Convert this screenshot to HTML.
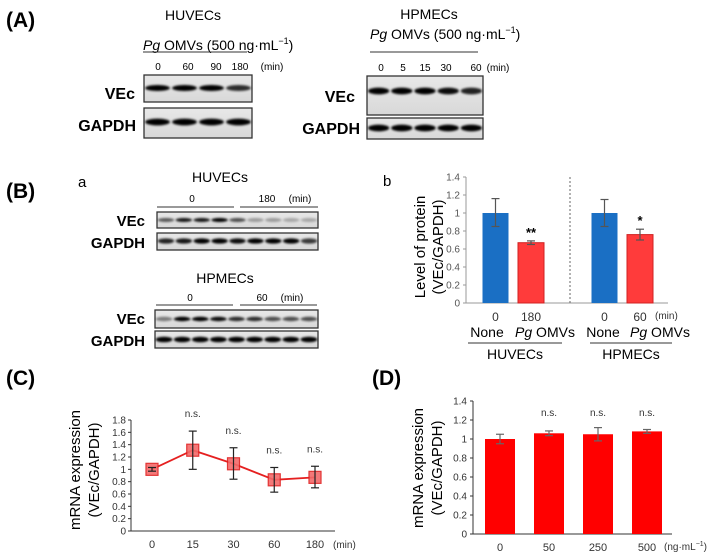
<!DOCTYPE html>
<html><head><meta charset="utf-8"><style>
html,body{margin:0;padding:0;background:#fff;}
svg{display:block;font-family:"Liberation Sans",Arial,sans-serif;}
</style></head><body>
<svg id="fig" width="709" height="560" viewBox="0 0 709 560">
<defs>
<filter id="bl" x="-20%" y="-80%" width="140%" height="260%"><feGaussianBlur stdDeviation="1.1"/></filter>
<linearGradient id="blotbg" x1="0" y1="0" x2="0" y2="1"><stop offset="0" stop-color="#e8e8e8"/><stop offset="1" stop-color="#d8d8d8"/></linearGradient>
</defs>
<text x="6" y="27" font-size="21" font-weight="bold">(A)</text>
<text x="6" y="198" font-size="21" font-weight="bold">(B)</text>
<text x="6" y="385" font-size="21" font-weight="bold">(C)</text>
<text x="372" y="385" font-size="21" font-weight="bold">(D)</text>

<text x="193" y="20" font-size="14" text-anchor="middle">HUVECs</text>
<text x="143" y="50" font-size="14"><tspan font-style="italic">Pg</tspan> OMVs (500 ng·mL<tspan font-size="9" dy="-6">−1</tspan><tspan dy="6">)</tspan></text>
<line x1="143" y1="52" x2="247" y2="52" stroke="#333"/>
<g font-size="10" text-anchor="middle">
<text x="158" y="70">0</text><text x="188" y="70">60</text><text x="216" y="70">90</text><text x="240" y="70">180</text><text x="272" y="70">(min)</text></g>
<text x="135" y="99" font-size="16" font-weight="bold" text-anchor="end">VEc</text>
<text x="136" y="131" font-size="16" font-weight="bold" text-anchor="end">GAPDH</text>

<text x="429" y="19" font-size="14" text-anchor="middle">HPMECs</text>
<text x="370" y="39" font-size="14"><tspan font-style="italic">Pg</tspan> OMVs (500 ng·mL<tspan font-size="9" dy="-6">−1</tspan><tspan dy="6">)</tspan></text>
<line x1="370" y1="52" x2="478" y2="52" stroke="#333"/>
<g font-size="10" text-anchor="middle">
<text x="381" y="71">0</text><text x="403" y="71">5</text><text x="425" y="71">15</text><text x="446" y="71">30</text><text x="476" y="71">60</text><text x="498" y="71">(min)</text></g>
<text x="355" y="102" font-size="16" font-weight="bold" text-anchor="end">VEc</text>
<text x="360" y="134" font-size="16" font-weight="bold" text-anchor="end">GAPDH</text>

<text x="78" y="187" font-size="15">a</text>
<text x="220" y="182" font-size="14" text-anchor="middle">HUVECs</text>
<g font-size="10" text-anchor="middle"><text x="192" y="202">0</text><text x="267" y="202">180</text><text x="300" y="202">(min)</text></g>
<line x1="157" y1="207" x2="234" y2="207" stroke="#333"/><line x1="240" y1="207" x2="318" y2="207" stroke="#333"/>
<text x="145" y="226" font-size="15" font-weight="bold" text-anchor="end">VEc</text>
<text x="145" y="248" font-size="15" font-weight="bold" text-anchor="end">GAPDH</text>
<text x="225" y="283" font-size="14" text-anchor="middle">HPMECs</text>
<g font-size="10" text-anchor="middle"><text x="190" y="301">0</text><text x="262" y="301">60</text><text x="292" y="301">(min)</text></g>
<line x1="156" y1="305" x2="233" y2="305" stroke="#333"/><line x1="240" y1="305" x2="317" y2="305" stroke="#333"/>
<text x="145" y="324" font-size="15" font-weight="bold" text-anchor="end">VEc</text>
<text x="145" y="346" font-size="15" font-weight="bold" text-anchor="end">GAPDH</text>

<g id="blots"></g>
<g id="chartB"></g>
<g id="chartC"></g>
<g id="chartD"></g>
</svg>
<script>
// Panel B(b) data
const bCats = ["0","180","0","60"];
const bValues = [1.0, 0.67, 1.0, 0.76];
const bErrHi = [0.16, 0.02, 0.15, 0.06];
const bErrLo = [0.15, 0.02, 0.15, 0.06];
const bSig = ["", "**", "", "*"];
const bTicks = [0,0.2,0.4,0.6,0.8,1,1.2,1.4];
// Panel C data
const cCats = ["0","15","30","60","180"];
const cValues = [1.0, 1.31, 1.09, 0.83, 0.87];
const cErrHi = [0.03, 0.31, 0.26, 0.20, 0.18];
const cErrLo = [0.03, 0.31, 0.25, 0.20, 0.17];
const cSig = ["", "n.s.", "n.s.", "n.s.", "n.s."];
const cTicks = [0,0.2,0.4,0.6,0.8,1,1.2,1.4,1.6,1.8];
// Panel D data
const dCats = ["0","50","250","500"];
const dValues = [1.0, 1.06, 1.05, 1.08];
const dErr = [0.05, 0.025, 0.07, 0.02];
const dSig = ["", "n.s.", "n.s.", "n.s."];
const dTicks = [0,0.2,0.4,0.6,0.8,1,1.2,1.4];

const NS="http://www.w3.org/2000/svg";
function mk(p,tag,a,txt){const e=document.createElementNS(NS,tag);for(const k in a)e.setAttribute(k,a[k]);if(txt!==undefined)e.textContent=txt;p.appendChild(e);return e;}

const blotGroup=document.getElementById('blots');
function blot(x,y,w,h,ints,bandY,bh,name){
  const g=mk(blotGroup,'g',{});
  
  
  mk(g,'rect',{x:x,y:y,width:w,height:h,fill:'url(#blotbg)',stroke:'#333','stroke-width':1.3});
  const lw=w/ints.length;
  ints.forEach((v,i)=>{
    mk(g,'ellipse',{cx:x+lw*(i+0.5),cy:y+bandY,rx:lw*0.46,ry:bh,fill:'#000',opacity:v,filter:'url(#bl)'});
  });
}
blot(144,75,108,27,[1,1,1,0.8],13,3,'blot-huvecs-vec');
blot(144,108,108,30,[1,1,1,1],14,3.4,'blot-huvecs-gapdh');
blot(367,76,116,39,[1,1,1,0.95,0.85],15,3.4,'blot-hpmecs-vec');
blot(367,118,116,21,[1,1,1,1,1],10,3.4,'blot-hpmecs-gapdh');
blot(157,212,161,16,[0.6,0.9,0.9,1,0.65,0.3,0.3,0.25,0.25],8,2,'blot-b-huvecs-vec');
blot(157,233,161,17,[0.85,0.9,1,1,0.95,1,1,1,0.75],8,2.6,'blot-b-huvecs-gapdh');
blot(155,310,163,18,[0.45,1,1,0.95,0.8,0.8,0.65,0.65,0.65],9,2.2,'blot-b-hpmecs-vec');
blot(155,331,163,17,[1,1,1,1,1,1,1,1,1],8.5,2.8,'blot-b-hpmecs-gapdh');

// Chart B
(function(){
  const g=document.getElementById('chartB');
  const ax=466, y0=303, y1=177, max=1.4;
  const Y=v=>y0-(v/max)*(y0-y1);
  const centers=[495.5,531,604.5,640], bw=26, colors=['#1a6fc4','#ff3b3b','#1a6fc4','#ff3b3b'];
  mk(g,'text',{x:383,y:186,'font-size':15},'b');
  mk(g,'line',{x1:ax,y1:y1,x2:ax,y2:y0,stroke:'#999'});
  mk(g,'line',{x1:ax,y1:y0,x2:668,y2:y0,stroke:'#999'});
  bTicks.forEach(t=>{const yy=Y(t);
    mk(g,'line',{x1:ax-3,y1:yy,x2:ax,y2:yy,stroke:'#999'});
    const tl=mk(g,'text',{x:ax-6,y:yy+3.5,'font-size':10,'text-anchor':'end',fill:'#555'},String(t));
    
    });
  mk(g,'line',{x1:570,y1:177,x2:570,y2:305,stroke:'#666','stroke-dasharray':'2,2'});
  bValues.forEach((v,i)=>{
    const r=mk(g,'rect',{x:centers[i]-bw/2,y:Y(v),width:bw,height:y0-Y(v),fill:colors[i],stroke:i%2?'#d02020':'none'});
    
    
    const hi=Y(v+bErrHi[i]), lo=Y(v-bErrLo[i]);
    mk(g,'line',{x1:centers[i],y1:hi,x2:centers[i],y2:lo,stroke:'#555','stroke-width':1.2});
    mk(g,'line',{x1:centers[i]-4,y1:hi,x2:centers[i]+4,y2:hi,stroke:'#555','stroke-width':1.2});
    mk(g,'line',{x1:centers[i]-4,y1:lo,x2:centers[i]+4,y2:lo,stroke:'#555','stroke-width':1.2});
    if(bSig[i]) mk(g,'text',{x:centers[i],y:hi-4,'font-size':13,'font-weight':'bold','text-anchor':'middle'},bSig[i]);
    const cl=mk(g,'text',{x:centers[i],y:321,'font-size':12,'text-anchor':'middle',fill:'#333'},bCats[i]);
    
    
  });
  mk(g,'text',{x:655,y:319,'font-size':10,'fill':'#333'},'(min)');
  [[487,'None'],[603,'None']].forEach(a=>mk(g,'text',{x:a[0],y:337,'font-size':14,'text-anchor':'middle'},a[1]));
  [545,660].forEach(x=>{const t=mk(g,'text',{x:x,y:337,'font-size':14,'text-anchor':'middle'});
    mk(t,'tspan',{'font-style':'italic'},'Pg');mk(t,'tspan',{},' OMVs');});
  mk(g,'line',{x1:468,y1:343,x2:562,y2:343,stroke:'#333'});
  mk(g,'line',{x1:590,y1:343,x2:672,y2:343,stroke:'#333'});
  mk(g,'text',{x:515,y:359,'font-size':14,'text-anchor':'middle'},'HUVECs');
  mk(g,'text',{x:631,y:359,'font-size':14,'text-anchor':'middle'},'HPMECs');
  const yt=mk(g,'text',{transform:'translate(425,247) rotate(-90)','font-size':15,'text-anchor':'middle'});
  
  
  mk(yt,'tspan',{x:0,y:0},'Level of protein');mk(yt,'tspan',{x:0,y:18},'(VEc/GAPDH)');
})();

// Chart C
(function(){
  const g=document.getElementById('chartC');
  const ax=131, y0=531, y1=420, max=1.8;
  const Y=v=>y0-(v/max)*(y0-y1);
  const xs=cCats.map((c,i)=>152+i*40.75);
  mk(g,'line',{x1:ax,y1:y1,x2:ax,y2:y0,stroke:'#333'});
  mk(g,'line',{x1:ax,y1:y0,x2:335,y2:y0,stroke:'#333'});
  cTicks.forEach(t=>{const yy=Y(t);
    mk(g,'line',{x1:ax-3,y1:yy,x2:ax,y2:yy,stroke:'#333'});
    const tl=mk(g,'text',{x:ax-5,y:yy+3.5,'font-size':10,'text-anchor':'end',fill:'#333'},String(t));
    
    });
  const line=mk(g,'polyline',{points:xs.map((x,i)=>x+','+Y(cValues[i])).join(' '),fill:'none',stroke:'#e52020','stroke-width':1.8});
  
  
  cValues.forEach((v,i)=>{
    const x=xs[i];
    const p=mk(g,'rect',{x:x-6,y:Y(v)-6,width:12,height:12,fill:'#f36a6a',stroke:'#e02020','stroke-width':1.2,opacity:0.9});
    
    
    const hi=Y(v+cErrHi[i]), lo=Y(v-cErrLo[i]);
    mk(g,'line',{x1:x,y1:hi,x2:x,y2:lo,stroke:'#222','stroke-width':1.2});
    mk(g,'line',{x1:x-4,y1:hi,x2:x+4,y2:hi,stroke:'#222','stroke-width':1.2});
    mk(g,'line',{x1:x-4,y1:lo,x2:x+4,y2:lo,stroke:'#222','stroke-width':1.2});
    if(cSig[i]) mk(g,'text',{x:x,y:hi-14,'font-size':10,'text-anchor':'middle',fill:'#333'},cSig[i]);
    const cl=mk(g,'text',{x:x,y:548,'font-size':11,'text-anchor':'middle',fill:'#333'},cCats[i]);
    
    
  });
  mk(g,'text',{x:333,y:548,'font-size':10,'fill':'#333'},'(min)');
  const yt=mk(g,'text',{transform:'translate(80,470) rotate(-90)','font-size':15,'text-anchor':'middle'});
  
  
  mk(yt,'tspan',{x:0,y:0},'mRNA expression');mk(yt,'tspan',{x:0,y:19},'(VEc/GAPDH)');
})();

// Chart D
(function(){
  const g=document.getElementById('chartD');
  const ax=473, y0=534, y1=401, max=1.4;
  const Y=v=>y0-(v/max)*(y0-y1);
  const xs=dCats.map((c,i)=>500+i*49);
  mk(g,'line',{x1:ax,y1:y1,x2:ax,y2:y0,stroke:'#333'});
  mk(g,'line',{x1:ax,y1:y0,x2:672,y2:y0,stroke:'#333'});
  dTicks.forEach(t=>{const yy=Y(t);
    mk(g,'line',{x1:ax-3,y1:yy,x2:ax,y2:yy,stroke:'#333'});
    const tl=mk(g,'text',{x:ax-6,y:yy+3.5,'font-size':10,'text-anchor':'end',fill:'#333'},String(t));
    
    });
  dValues.forEach((v,i)=>{
    const x=xs[i];
    const r=mk(g,'rect',{x:x-15,y:Y(v),width:30,height:y0-Y(v),fill:'#ff0000'});
    
    
    const hi=Y(v+dErr[i]), lo=Y(v-dErr[i]);
    mk(g,'line',{x1:x,y1:hi,x2:x,y2:lo,stroke:'#666','stroke-width':1.2});
    mk(g,'line',{x1:x-4,y1:hi,x2:x+4,y2:hi,stroke:'#666','stroke-width':1.2});
    mk(g,'line',{x1:x-4,y1:lo,x2:x+4,y2:lo,stroke:'#666','stroke-width':1.2});
    if(dSig[i]) mk(g,'text',{x:x,y:416,'font-size':10,'text-anchor':'middle',fill:'#333'},dSig[i]);
    const cl=mk(g,'text',{x:x,y:551,'font-size':11,'text-anchor':'middle',fill:'#333'},dCats[i]);
    
    
  });
  const u=mk(g,'text',{x:664,y:550,'font-size':10,fill:'#333'},'(ng·mL');
  mk(u,'tspan',{'font-size':7,dy:-4},'−1');mk(u,'tspan',{dy:4},')');
  const yt=mk(g,'text',{transform:'translate(423,468) rotate(-90)','font-size':15,'text-anchor':'middle'});
  
  
  mk(yt,'tspan',{x:0,y:0},'mRNA expression');mk(yt,'tspan',{x:0,y:19},'(VEc/GAPDH)');
})();
</script>
</body></html>
